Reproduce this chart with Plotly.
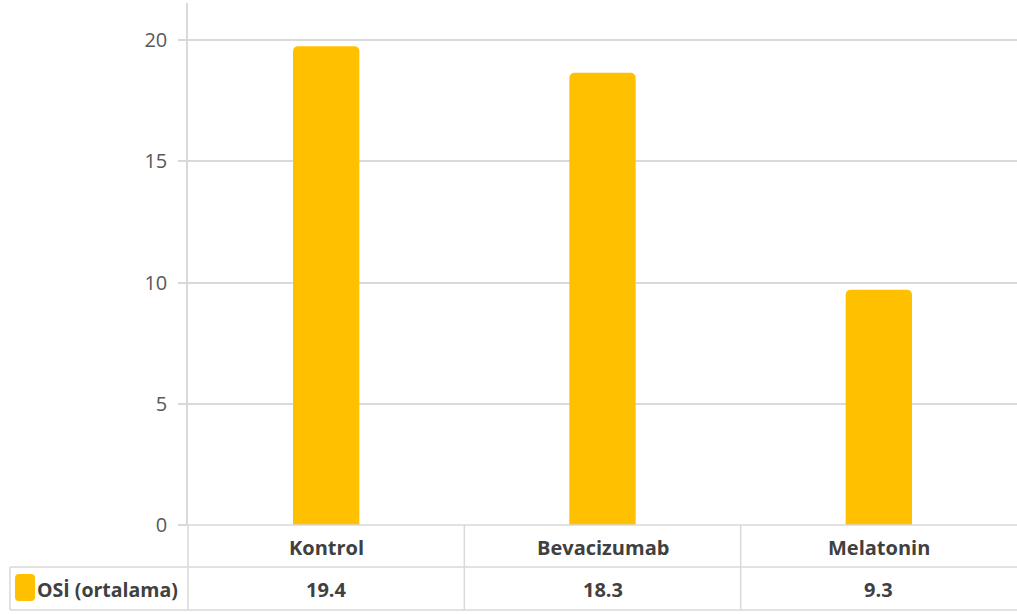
import plotly.graph_objects as go

categories = ["Kontrol", "Bevacizumab", "Melatonin"]
bar_values = [19.75, 18.65, 9.7]          # heights as drawn in the picture
table_values = ["19.4", "18.3", "9.3"]    # values printed in the data table
series_name = "OSİ (ortalama)"
y_ticks = [0, 5, 10, 15, 20]

W, H = 1017, 614
L, R, T, B = 188, 0, 3, 89
GRID = "#d9d9d9"
BAR = "#ffc000"
TXT = "#404040"
FONT = "Open Sans"

fig = go.Figure(go.Bar(
    x=categories, y=bar_values, marker=dict(color=BAR, line=dict(width=0)),
    width=0.24, name=series_name, showlegend=False, hoverinfo="skip"))

def px(xp):  # pixel x -> paper (plot-area relative)
    return (xp - L) / (W - L - R)
def py(yp):  # pixel y (from top) -> paper
    return 1 - (yp - T) / (H - T - B)

shapes = []
line = dict(color=GRID, width=1.5)
# baseline / table top
shapes.append(dict(type="line", xref="paper", yref="paper", x0=px(180), x1=1.0, y0=py(525), y1=py(525), line=line))
# horizontal table lines
shapes.append(dict(type="line", xref="paper", yref="paper", x0=px(10), x1=1.0, y0=py(567), y1=py(567), line=line))
shapes.append(dict(type="line", xref="paper", yref="paper", x0=px(10), x1=1.0, y0=py(610), y1=py(610), line=line))
# vertical table lines
shapes.append(dict(type="line", xref="paper", yref="paper", x0=px(10), x1=px(10), y0=py(567), y1=py(610), line=line))
shapes.append(dict(type="line", xref="paper", yref="paper", x0=0, x1=0, y0=0, y1=py(610), line=line))
for xc in [0.5, 1.5]:
    shapes.append(dict(type="line", xref="x", yref="paper", x0=xc, x1=xc, y0=py(525), y1=py(610), line=line))
# legend key
x0, x1, y0, y1, r = 15, 35, 574, 601, 4
path = (f"M {px(x0+r)} {py(y0)} L {px(x1-r)} {py(y0)} Q {px(x1)} {py(y0)} {px(x1)} {py(y0+r)} "
        f"L {px(x1)} {py(y1-r)} Q {px(x1)} {py(y1)} {px(x1-r)} {py(y1)} "
        f"L {px(x0+r)} {py(y1)} Q {px(x0)} {py(y1)} {px(x0)} {py(y1-r)} "
        f"L {px(x0)} {py(y0+r)} Q {px(x0)} {py(y0)} {px(x0+r)} {py(y0)} Z")
shapes.append(dict(type="path", xref="paper", yref="paper", path=path,
                   fillcolor=BAR, line=dict(width=0)))

annotations = []
for c, v in zip(categories, table_values):
    annotations.append(dict(x=c, xref="x", yref="paper", y=py(547), text=f"<b>{c}</b>",
                            showarrow=False, font=dict(size=20, color=TXT, family=FONT),
                            xanchor="center", yanchor="middle"))
    annotations.append(dict(x=c, xref="x", yref="paper", y=py(589), text=f"<b>{v}</b>",
                            showarrow=False, font=dict(size=20, color=TXT, family=FONT),
                            xanchor="center", yanchor="middle"))
annotations.append(dict(x=px(35), xref="paper", yref="paper", y=py(589), text=f"<b>{series_name}</b>",
                        showarrow=False, font=dict(size=19.5, color=TXT, family=FONT),
                        xanchor="left", yanchor="middle"))

fig.update_layout(
    width=W, height=H, margin=dict(l=L, r=R, t=T, b=B),
    paper_bgcolor="white", plot_bgcolor="white",
    barcornerradius=5,
    font=dict(family=FONT, color="#595959", size=18),
    xaxis=dict(type="category", range=[-0.5, 2.5], showticklabels=False, showgrid=False,
               showline=False, zeroline=False, fixedrange=True),
    yaxis=dict(range=[0, 21.53], tickvals=y_ticks, showgrid=True, gridcolor=GRID, gridwidth=1.5,
               showline=True, linecolor=GRID, linewidth=1.5, zeroline=False,
               ticks="outside", ticklen=8, tickcolor=GRID, tickwidth=1.5,
               tickfont=dict(size=20, color="#595959", family=FONT), ticklabelstandoff=7),
    shapes=shapes, annotations=annotations,
)
fig.write_html("out.html")
